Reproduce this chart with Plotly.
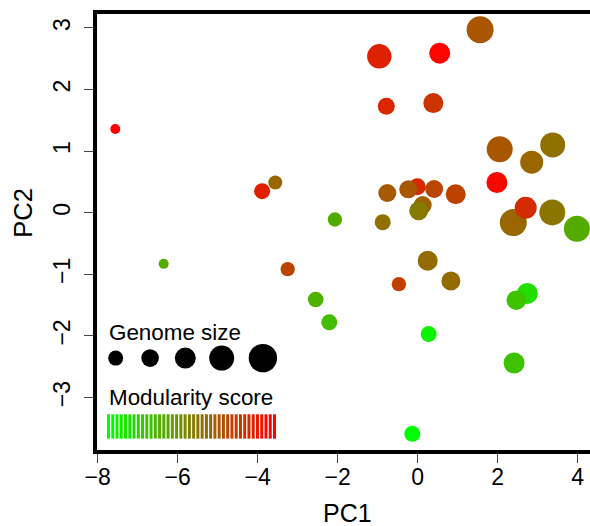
import plotly.graph_objects as go

# ---- data ----
pc1 = [-7.56, -3.89, -3.56, -0.96, 0.55, 1.56, -0.785, 0.39, 2.05, 3.375,
       2.85, 1.98, -0.76, -0.01, -0.235, 0.41, 0.95, 0.125, 0.025, 2.39,
       2.70, 3.365, 3.98, -2.07, -0.875, 0.25, -6.35, -3.25, -0.47, 0.83,
       -2.55, -2.21, 0.275, 2.74, 2.465, 2.41, -0.135]
pc2 = [1.36, 0.35, 0.49, 2.54, 2.59, 2.97, 1.73, 1.78, 1.03, 1.10,
       0.82, 0.49, 0.32, 0.42, 0.38, 0.385, 0.30, 0.125, 0.03, -0.16,
       0.08, 0.005, -0.26, -0.11, -0.155, -0.78, -0.83, -0.915, -1.16, -1.11,
       -1.41, -1.78, -1.97, -1.31, -1.42, -2.44, -3.59]
genome_size = [2.5, 4.0, 3.5, 6.1, 5.25, 6.75, 4.25, 5.0, 6.5, 6.25,
               5.75, 5.25, 4.5, 4.25, 4.5, 4.5, 5.0, 4.5, 4.75, 6.75,
               5.5, 6.5, 6.5, 3.6, 4.0, 5.0, 2.5, 3.6, 3.6, 4.75,
               3.9, 4.0, 4.0, 5.25, 4.9, 5.25, 4.0]
modularity = [1.00, 0.88, 0.60, 0.87, 0.98, 0.66, 0.85, 0.80, 0.66, 0.56,
              0.60, 0.96, 0.65, 0.84, 0.66, 0.73, 0.74, 0.62, 0.52, 0.60,
              0.83, 0.54, 0.33, 0.33, 0.56, 0.58, 0.32, 0.73, 0.75, 0.58,
              0.30, 0.26, 0.05, 0.13, 0.24, 0.24, 0.00]

legend_sizes = [3.75, 4.4, 5.25, 6.25, 7.1]
legend_size_x = [-7.55, -6.69, -5.81, -4.90, -3.87]
n_colour_steps = 40

x_ticks = [-8, -6, -4, -2, 0, 2, 4]
y_ticks = [-3, -2, -1, 0, 1, 2, 3]

# ---- style ----
SIZE_SCALE = 4.0
colorscale = [[0, "#00ff00"], [1, "#ff0000"]]
font_family = "Liberation Sans, Arial, Helvetica, sans-serif"

fig = go.Figure()

fig.add_trace(go.Scatter(
    x=pc1, y=pc2, mode="markers",
    marker=dict(size=[g * SIZE_SCALE for g in genome_size],
                color=modularity, colorscale=colorscale, cmin=0, cmax=1,
                line=dict(width=0), opacity=1),
    showlegend=False, hoverinfo="skip"))

# size legend
fig.add_trace(go.Scatter(
    x=legend_size_x, y=[-2.36] * len(legend_sizes), mode="markers",
    marker=dict(size=[g * SIZE_SCALE for g in legend_sizes], color="black",
                line=dict(width=0), opacity=1),
    showlegend=False, hoverinfo="skip"))

# colour legend
x0, x1 = -7.73, -3.58
steps = [i / (n_colour_steps - 1) for i in range(n_colour_steps)]
fig.add_trace(go.Scatter(
    x=[x0 + (x1 - x0) * s for s in steps], y=[-3.47] * n_colour_steps,
    mode="markers",
    marker=dict(symbol="line-ns", size=17.4, opacity=1,
                line=dict(width=3, color=steps, colorscale=colorscale,
                          cmin=0, cmax=1)),
    showlegend=False, hoverinfo="skip"))

fig.add_annotation(x=-7.76, y=-1.94, xref="x", yref="y", text="Genome size",
                   showarrow=False, xanchor="left", yanchor="middle",
                   font=dict(size=22.4, color="black", family=font_family))
fig.add_annotation(x=-7.78, y=-3.0, xref="x", yref="y", text="Modularity score",
                   showarrow=False, xanchor="left", yanchor="middle",
                   font=dict(size=22.4, color="black", family=font_family))

# axis titles (PC2 centred 23 px from the left edge, PC1 centred under the full box)
fig.add_annotation(x=(23 - 97) / (590 - 97), y=0, xref="paper", yref="y", text="PC2",
                   showarrow=False, xanchor="center", yanchor="middle",
                   textangle=-90,
                   font=dict(size=25.5, color="black", family=font_family))
fig.add_annotation(x=-1.75, y=0, xref="x", yref="paper", text="PC1",
                   showarrow=False, xanchor="center", yanchor="middle",
                   yshift=-62.5,
                   font=dict(size=25, color="black", family=font_family))

axis_common = dict(showgrid=False, zeroline=False, showline=True,
                   linecolor="black", linewidth=3.5, ticks="outside",
                   ticklen=9, tickwidth=1, tickcolor="#444",
                   tickfont=dict(size=23, color="black", family=font_family))

fig.update_xaxes(range=[-8.0175, 4.3075], tickvals=x_ticks, mirror=True,
                 ticklabelstandoff=-5, **axis_common)
fig.update_yaxes(range=[-3.852, 3.226], tickvals=y_ticks, mirror=False,
                 tickangle=-90, ticklabelstandoff=5, **axis_common)

fig.update_layout(width=590, height=526,
                  margin=dict(l=97, r=0, t=14, b=76, autoexpand=False),
                  paper_bgcolor="white", plot_bgcolor="white",
                  font=dict(family=font_family, color="black"))

fig.write_html("out.html")
